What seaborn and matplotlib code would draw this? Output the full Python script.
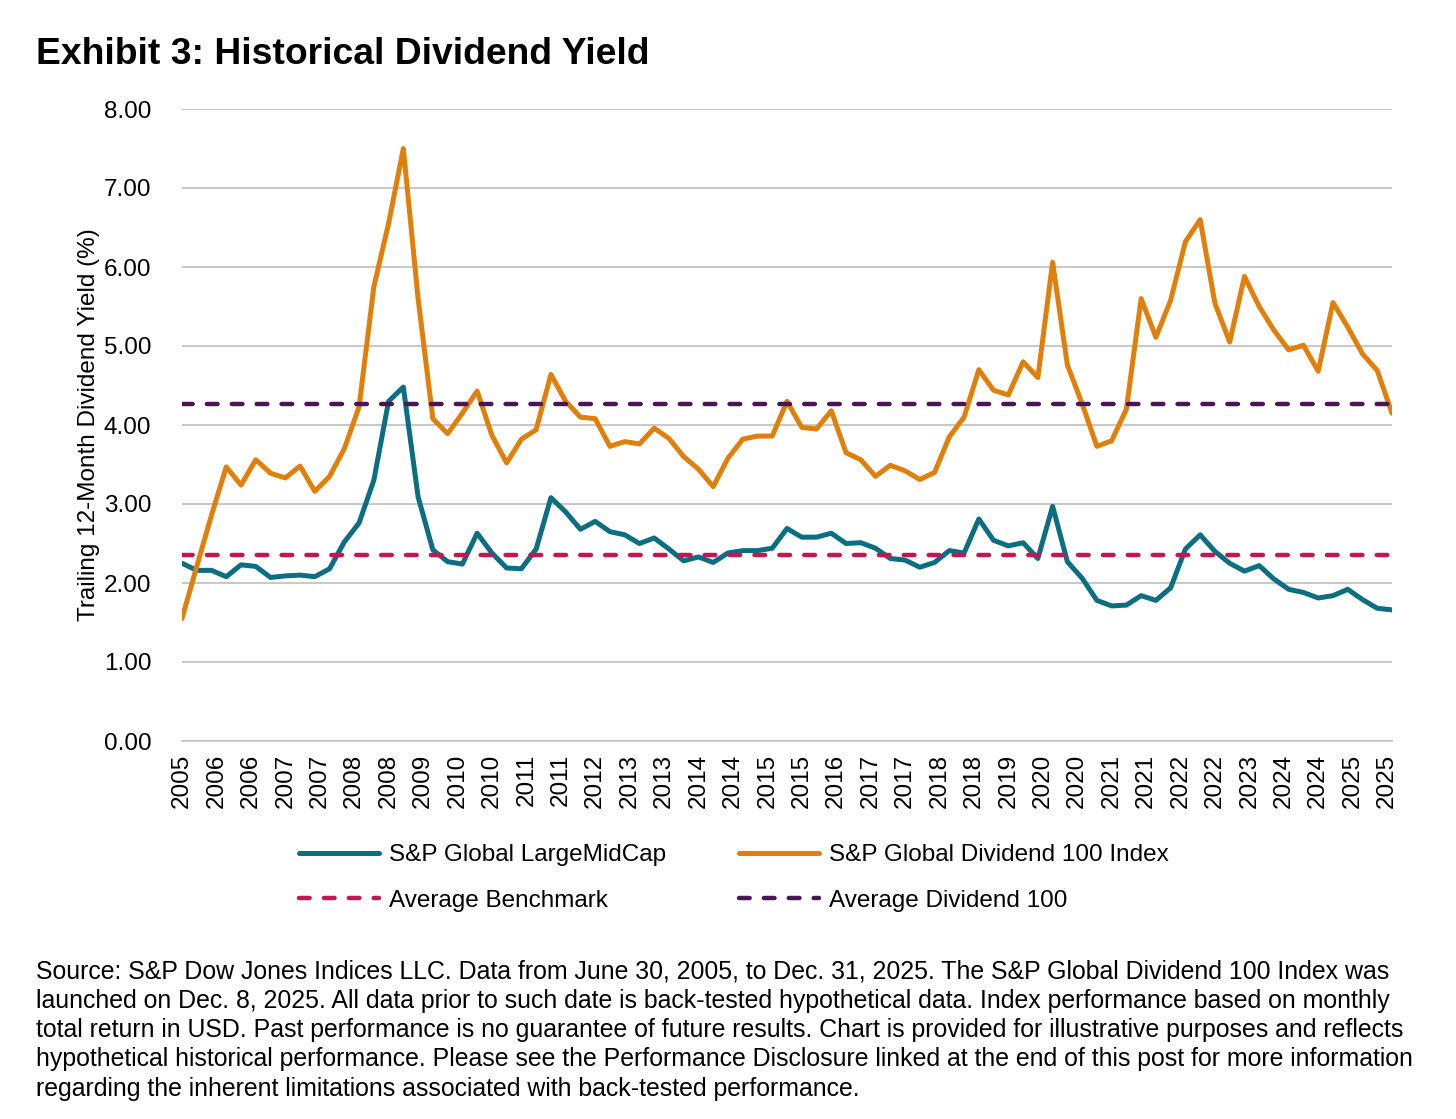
import numpy as np
import pandas as pd
import matplotlib
matplotlib.use("Agg")
import matplotlib.pyplot as plt
import seaborn as sns

# --------------------------
# DATA (quarter-end values, June 2005 to Dec. 2025)
# --------------------------
largemidcap = [
    2.25, 2.16, 2.16, 2.08, 2.23, 2.21, 2.07, 2.09, 2.10, 2.08,
    2.18, 2.52, 2.76, 3.30, 4.30, 4.48, 3.09, 2.42, 2.27, 2.24,
    2.63, 2.38, 2.19, 2.18, 2.43, 3.08, 2.90, 2.68, 2.78, 2.65,
    2.61, 2.50, 2.57, 2.43, 2.28, 2.33, 2.26, 2.38, 2.41, 2.41,
    2.44, 2.69, 2.58, 2.58, 2.63, 2.50, 2.51, 2.44, 2.31, 2.29,
    2.20, 2.26, 2.41, 2.38, 2.81, 2.54, 2.47, 2.51, 2.31, 2.97,
    2.27, 2.06, 1.78, 1.71, 1.72, 1.84, 1.78, 1.94, 2.43, 2.61,
    2.40, 2.25, 2.15, 2.22, 2.05, 1.92, 1.88, 1.81, 1.84, 1.92,
    1.79, 1.68, 1.66,
]
dividend100 = [
    1.55, 2.21, 2.86, 3.47, 3.24, 3.56, 3.39, 3.33, 3.48, 3.16,
    3.35, 3.70, 4.23, 5.75, 6.55, 7.50, 5.60, 4.08, 3.89, 4.15,
    4.43, 3.87, 3.52, 3.82, 3.94, 4.64, 4.30, 4.10, 4.08, 3.73,
    3.79, 3.76, 3.96, 3.83, 3.60, 3.44, 3.22, 3.58, 3.82, 3.86,
    3.86, 4.30, 3.97, 3.95, 4.18, 3.65, 3.56, 3.35, 3.49, 3.42,
    3.31, 3.40, 3.85, 4.10, 4.70, 4.44, 4.38, 4.80, 4.60, 6.06,
    4.76, 4.27, 3.73, 3.80, 4.20, 5.60, 5.11, 5.58, 6.32, 6.60,
    5.54, 5.05, 5.88, 5.50, 5.20, 4.95, 5.01, 4.68, 5.55, 5.24,
    4.90, 4.69, 4.15,
]
avg_benchmark = 2.36
avg_dividend100 = 4.26

tick_labels = [
    "2005", "2006", "2006", "2007", "2007", "2008", "2008", "2009", "2010",
    "2010", "2011", "2011", "2012", "2013", "2013", "2014", "2014", "2015",
    "2015", "2016", "2017", "2017", "2018", "2018", "2019", "2020", "2020",
    "2021", "2021", "2022", "2022", "2023", "2024", "2024", "2025", "2025",
]
y_ticks = [0, 1, 2, 3, 4, 5, 6, 7, 8]

title = "Exhibit 3: Historical Dividend Yield"
ylabel = "Trailing 12-Month Dividend Yield (%)"
footnote = (
    "Source: S&P Dow Jones Indices LLC. Data from June 30, 2005, to Dec. 31, 2025. The S&P Global Dividend 100 Index was\n"
    "launched on Dec. 8, 2025. All data prior to such date is back-tested hypothetical data. Index performance based on monthly\n"
    "total return in USD. Past performance is no guarantee of future results. Chart is provided for illustrative purposes and reflects\n"
    "hypothetical historical performance. Please see the Performance Disclosure linked at the end of this post for more information\n"
    "regarding the inherent limitations associated with back-tested performance."
)

# months since June 2005 (one point per quarter)
months = np.arange(len(largemidcap)) * 3
df = pd.DataFrame({"month": months, "lmc": largemidcap, "div100": dividend100})

# --------------------------
# STYLE
# --------------------------
sns.set_theme(style="white")
plt.rcParams["font.family"] = ["Liberation Sans", "DejaVu Sans"]
plt.rcParams["text.color"] = "black"
plt.rcParams["axes.labelcolor"] = "black"
plt.rcParams["xtick.color"] = "black"
plt.rcParams["ytick.color"] = "black"

TEAL = "#0B6E82"
ORANGE = "#E17F0B"
RED = "#C6164F"
PURPLE = "#4B1555"
GRID = "#C4C4C4"
FS = 17.5

fig = plt.figure(figsize=(14.56, 11.19), dpi=100)
ax = fig.add_axes([182 / 1456, 1 - 741 / 1119, 1210 / 1456, 632 / 1119])

sns.lineplot(data=df, x="month", y="lmc", ax=ax, color=TEAL, lw=3.6,
             label="S&P Global LargeMidCap", legend=False)
sns.lineplot(data=df, x="month", y="div100", ax=ax, color=ORANGE, lw=3.6,
             label="S&P Global Dividend 100 Index", legend=False)
ax.axhline(avg_benchmark, color=RED, lw=3.2, dashes=(2.4, 3.2),
           dash_capstyle="round", label="Average Benchmark")
ax.axhline(avg_dividend100, color=PURPLE, lw=3.2, dashes=(2.4, 3.2),
           dash_capstyle="round", label="Average Dividend 100")

ax.set_xlim(0, months[-1])
ax.set_ylim(0, 8)
ax.set_yticks(y_ticks)
ax.set_yticklabels([f"{v:.2f}" for v in y_ticks], fontsize=FS)
ax.set_xticks(np.arange(len(tick_labels)) * 7)
ax.set_xticklabels(tick_labels, rotation=90, fontsize=FS)
ax.tick_params(axis="x", length=7, width=1.2, color=GRID, pad=2, labelcolor="black")
ax.tick_params(axis="y", length=0, pad=22, labelcolor="black")
ax.grid(axis="y", color=GRID, lw=1.3)
ax.set_axisbelow(True)
for side in ["left", "right", "top"]:
    ax.spines[side].set_visible(False)
ax.spines["bottom"].set_color(GRID)
ax.spines["bottom"].set_linewidth(1.3)

ax.set_xlabel("")
ax.set_ylabel(ylabel, fontsize=FS, color="black")
ax.yaxis.set_label_coords(-0.068, 0.5)

fig.text(36 / 1456, 1 - 55 / 1119, title, fontsize=26.8, fontweight="bold",
         ha="left", va="center", color="black")

handles, labels = ax.get_legend_handles_labels()
order = [0, 2, 1, 3]
fig.legend([handles[i] for i in order], [labels[i] for i in order],
           ncol=2, frameon=False, fontsize=FS, loc="center",
           bbox_to_anchor=(734 / 1456, 1 - 878 / 1119),
           handlelength=3.3, handletextpad=0.4, columnspacing=3.0,
           labelspacing=0.95)

fig.text(36 / 1456, 1 - 960 / 1119, footnote, fontsize=17.9, ha="left",
         va="top", linespacing=1.27, color="black")

fig.savefig("out.png", dpi=100)
